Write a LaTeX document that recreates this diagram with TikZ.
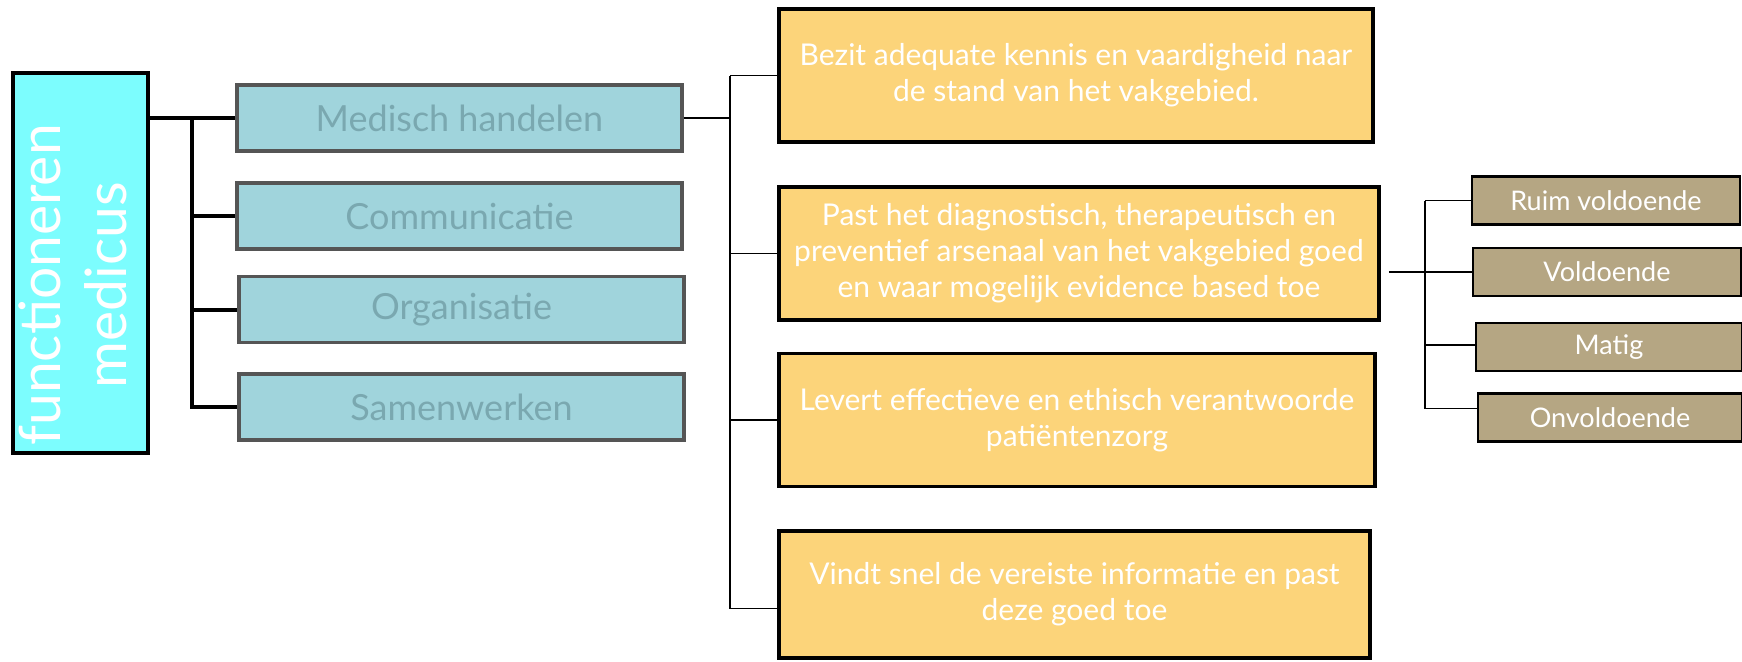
\documentclass[tikz,border=0pt]{standalone}
\usepackage{fontspec}
\setmainfont{Lato}
\definecolor{rootbg}{RGB}{124,253,254}
\definecolor{areabg}{RGB}{160,212,220}
\definecolor{areaborder}{RGB}{85,85,85}
\definecolor{areatext}{RGB}{122,168,176}
\definecolor{criterionbg}{RGB}{252,212,122}
\definecolor{scorebg}{RGB}{181,166,131}
\tikzset{
  root/.style={draw=black,line width=2pt,fill=rootbg,text=white,
    minimum width=67.5pt,minimum height=190pt,inner sep=0pt},
  area/.style={draw=areaborder,line width=1.6pt,fill=areabg,text=areatext,
    minimum width=222.5pt,minimum height=33pt,inner sep=0pt,
    font=\fontsize{18}{21}\selectfont},
  criterion/.style={draw=black,line width=1.8pt,fill=criterionbg,text=white,
    minimum height=66.5pt,inner sep=0pt,align=center,
    font=\fontsize{15}{18}\selectfont},
  score/.style={draw=black,line width=1.1pt,fill=scorebg,text=white,
    minimum width=134pt,minimum height=24pt,inner sep=0pt,
    font=\fontsize{13.5}{15}\selectfont},
  thickedge/.style={line width=2pt},
  thinedge/.style={line width=0.8pt}
}
\begin{document}
\begin{tikzpicture}[x=0.5pt,y=-0.5pt]
\useasboundingbox (0,0) rectangle (1742,661);
% root
\node[root] (func) at (80.5,263) {\rotatebox{90}{\fontsize{28.5}{33}\selectfont
  \begin{tabular}{@{}c@{}}functioneren\\medicus\end{tabular}\kern22pt}};
% competence areas
\node[area] (med) at (459.5,118) {Medisch handelen};
\node[area] (com) at (459.5,216) {Communicatie};
\node[area] (org) at (461.5,309.5) {Organisatie};
\node[area] (sam) at (461.5,407) {Samenwerken};
% criteria
\node[criterion,minimum width=297pt] (kennis) at (1076,75.5)
  {Bezit adequate kennis en vaardigheid naar\\de stand van het vakgebied.};
\node[criterion,minimum width=300pt] (arsenaal) at (1079,253.5)
  {Past het diagnostisch, therapeutisch en\\preventief arsenaal van het vakgebied goed\\en waar mogelijk evidence based toe};
\node[criterion,minimum width=298pt] (zorg) at (1077,420)
  {Levert effectieve en ethisch verantwoorde\\patiëntenzorg};
\node[criterion,minimum width=295.5pt,minimum height=63.5pt] (info) at (1074.5,594.5)
  {Vindt snel de vereiste informatie en past\\deze goed toe};
% scores
\node[score] (ruim) at (1606,200.5) {Ruim voldoende};
\node[score] (vold) at (1607,272) {Voldoende};
\node[score,minimum width=133pt] (matig) at (1609,347) {Matig};
\node[score,minimum width=132pt] (onv) at (1610,417.5) {Onvoldoende};
% root to areas
\coordinate (trunk) at (192,120);
\draw[thickedge] (func.east |- med.west) -- (med.west);
\draw[thickedge] (trunk) -- (trunk |- sam.west) -- (sam.west);
\draw[thickedge] (trunk |- com.west) -- (com.west);
\draw[thickedge] (trunk |- org.west) -- (org.west);
% area to criteria
\coordinate (spine) at (730,75.5);
\coordinate (infoin) at ([yshift=-7pt]info.west);
\draw[thinedge] (med.east) -- (spine |- med.east);
\draw[thinedge] (spine) -- (spine |- infoin) -- (infoin);
\draw[thinedge] (spine) -- (kennis.west);
\draw[thinedge] (spine |- arsenaal.west) -- (arsenaal.west);
\draw[thinedge] (spine |- zorg.west) -- (zorg.west);
% criterion to scores
\coordinate (sub) at (1425,200.5);
\coordinate (onvin) at ([yshift=4.5pt]onv.west);
\coordinate (matigin) at ([yshift=1pt]matig.west);
\draw[thinedge] ([xshift=4pt]arsenaal.east |- vold.west) -- (vold.west);
\draw[thinedge] (sub) -- (ruim.west);
\draw[thinedge] (sub) -- (sub |- onvin) -- (onvin);
\draw[thinedge] (sub |- matigin) -- (matigin);
\end{tikzpicture}
\end{document}
